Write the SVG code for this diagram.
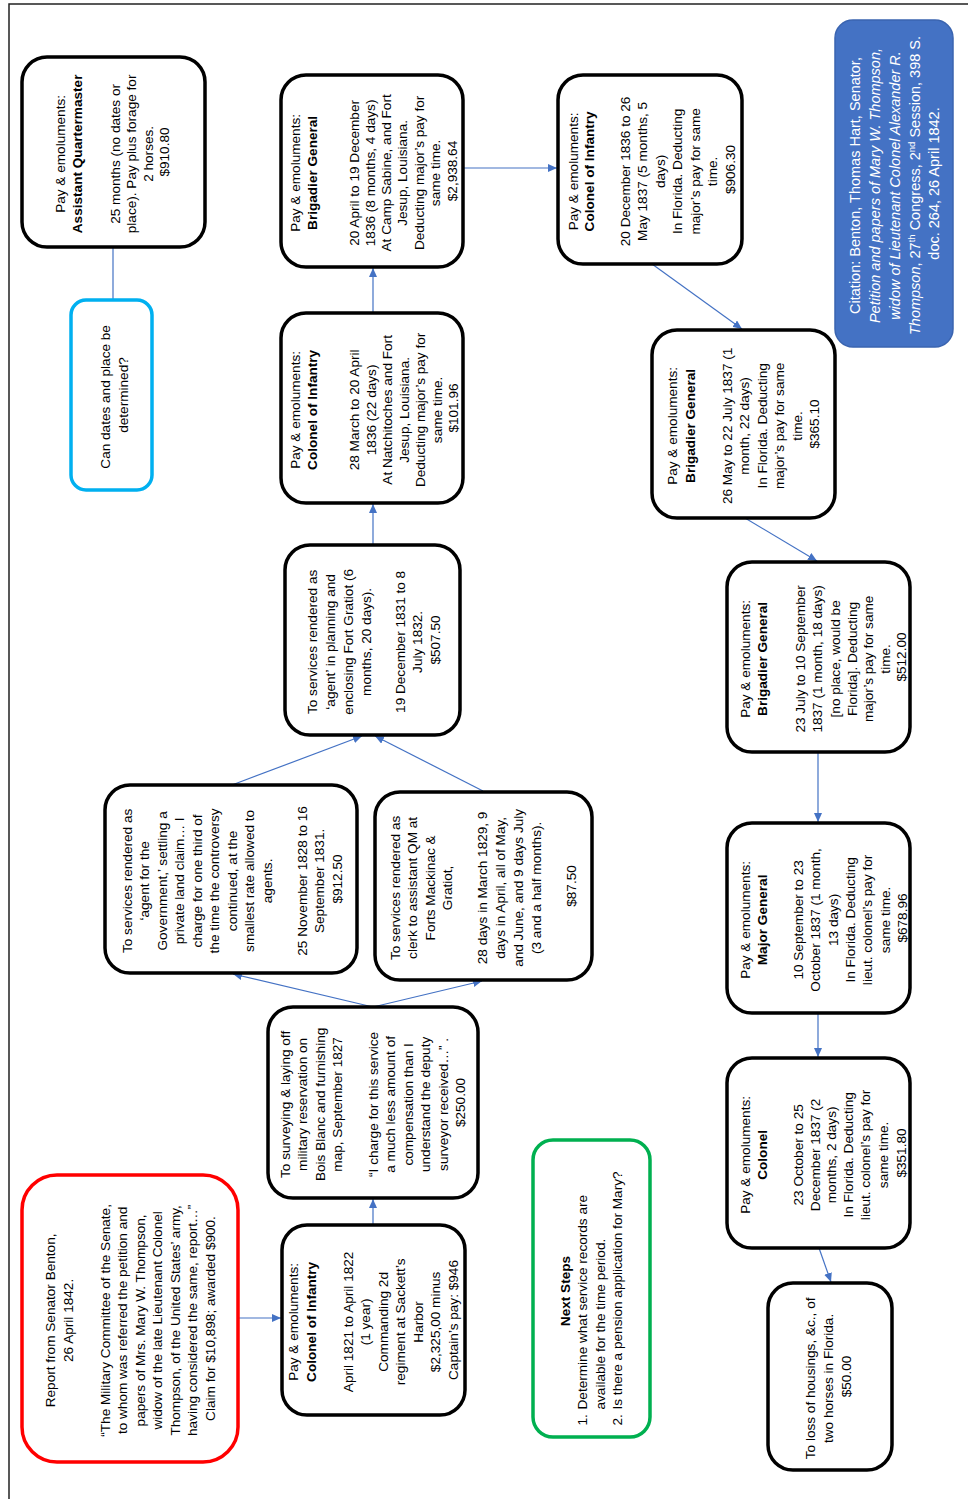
<svg xmlns="http://www.w3.org/2000/svg" width="968" height="1499" viewBox="0 0 968 1499">
<style>
.box{fill:#fff;stroke:#000;stroke-width:3.5}
.t{font-family:"Liberation Sans",Arial,sans-serif;font-size:13.6px;text-anchor:middle;fill:#000}
.b{font-weight:bold}
.conn{stroke:#4472C4;stroke-width:1.2;fill:none;marker-end:url(#ah)}
.plain{stroke:#4472C4;stroke-width:1.2;fill:none}
</style>
<defs>
<marker id="ah" markerUnits="userSpaceOnUse" markerWidth="9" markerHeight="8" refX="9" refY="4" orient="auto">
<path d="M0,0 L9,4 L0,8 z" fill="#4472C4"/>
</marker>
</defs>
<rect width="968" height="1499" fill="#fff"/>
<path d="M9,1499 V4 H968" fill="none" stroke="#222" stroke-width="1.5"/>

<g id="connectors">
<line class="plain" x1="113" y1="247" x2="113" y2="300"/>
<line class="conn" x1="238" y1="1318" x2="281" y2="1318"/>
<line class="conn" x1="373" y1="1225" x2="373" y2="1199"/>
<line class="conn" x1="373" y1="1007" x2="233" y2="974"/>
<line class="conn" x1="373" y1="1007" x2="482" y2="981"/>
<line class="conn" x1="232" y1="785" x2="362" y2="736"/>
<line class="conn" x1="483" y1="791" x2="375" y2="736"/>
<line class="conn" x1="373" y1="545" x2="373" y2="504"/>
<line class="conn" x1="373" y1="313" x2="373" y2="268"/>
<line class="conn" x1="463" y1="168" x2="557" y2="168"/>
<line class="conn" x1="652" y1="264" x2="742" y2="329"/>
<line class="conn" x1="745" y1="518" x2="817" y2="561"/>
<line class="conn" x1="818" y1="752" x2="818" y2="822"/>
<line class="conn" x1="818" y1="1013" x2="818" y2="1057"/>
<line class="conn" x1="819" y1="1248" x2="831" y2="1282"/>
</g>

<g id="n-asst-qm">
<rect class="box" x="22" y="57" width="183" height="190" rx="25"/>
<text class="t" transform="translate(113.5,152) rotate(-90)">
<tspan x="0" y="-48.8">Pay &amp; emoluments:</tspan>
<tspan x="0" y="-31.8" class="b">Assistant Quartermaster</tspan>
<tspan x="0" y="6.2">25 months (no dates or</tspan>
<tspan x="0" y="22.7">place). Pay plus forage for</tspan>
<tspan x="0" y="39.2">2 horses.</tspan>
<tspan x="0" y="55.7">$910.80</tspan>
</text>
</g>

<g id="n-can-dates">
<rect x="71" y="300" width="81" height="190" rx="15" fill="#fff" stroke="#00B0F0" stroke-width="3.5"/>
<text class="t" transform="translate(111.5,395) rotate(-90)">
<tspan x="0" y="-1.8">Can dates and place be</tspan>
<tspan x="0" y="16.2">determined?</tspan>
</text>
</g>

<g id="n-brig-1836">
<rect class="box" x="281" y="75" width="182" height="192" rx="25"/>
<text class="t" transform="translate(372,171) rotate(-90)">
<tspan x="0" y="-72.3">Pay &amp; emoluments:</tspan>
<tspan x="0" y="-55.3" class="b">Brigadier General</tspan>
<tspan x="0" y="-13.3">20 April to 19 December</tspan>
<tspan x="0" y="3.2">1836 (8 months, 4 days)</tspan>
<tspan x="0" y="19.2">At Camp Sabine, and Fort</tspan>
<tspan x="0" y="35.2">Jesup, Louisiana.</tspan>
<tspan x="0" y="51.7">Deducting major’s pay for</tspan>
<tspan x="0" y="68.2">same time.</tspan>
<tspan x="0" y="84.7">$2,938.64</tspan>
</text>
</g>

<g id="n-col-1836">
<rect class="box" x="281" y="313" width="182" height="190" rx="25"/>
<text class="t" transform="translate(372,408) rotate(-90)">
<tspan x="0" y="-72.3">Pay &amp; emoluments:</tspan>
<tspan x="0" y="-55.3" class="b">Colonel of Infantry</tspan>
<tspan x="0" y="-13">28 March to 20 April</tspan>
<tspan x="0" y="3.5">1836 (22 days)</tspan>
<tspan x="0" y="20">At Natchitoches and Fort</tspan>
<tspan x="0" y="36.5">Jesup, Louisiana.</tspan>
<tspan x="0" y="53">Deducting major’s pay for</tspan>
<tspan x="0" y="69.5">same time.</tspan>
<tspan x="0" y="86">$101.96</tspan>
</text>
</g>

<g id="n-fort-gratiot">
<rect class="box" x="285" y="545" width="175" height="190" rx="25"/>
<text class="t" transform="translate(372.5,640) rotate(-90)">
<tspan x="0" y="-55.8">To services rendered as</tspan>
<tspan x="0" y="-37.8">‘agent’ in planning and</tspan>
<tspan x="0" y="-19.8">enclosing Fort Gratiot (6</tspan>
<tspan x="0" y="-1.8">months, 20 days).</tspan>
<tspan x="0" y="32.2">19 December 1831 to 8</tspan>
<tspan x="0" y="49.7">July 1832.</tspan>
<tspan x="0" y="67.2">$507.50</tspan>
</text>
</g>

<g id="n-agent-gov">
<rect class="box" x="105" y="785" width="252" height="188" rx="25"/>
<text class="t" transform="translate(231,879) rotate(-90)">
<tspan x="0" y="-99.3">To services rendered as</tspan>
<tspan x="0" y="-81.8">‘agent for the</tspan>
<tspan x="0" y="-64.3">Government,’  settling a</tspan>
<tspan x="0" y="-46.8">private land claim… I</tspan>
<tspan x="0" y="-29.3">charge for one third of</tspan>
<tspan x="0" y="-11.8">the time the controversy</tspan>
<tspan x="0" y="5.7">continued, at the</tspan>
<tspan x="0" y="23.2">smallest rate allowed to</tspan>
<tspan x="0" y="40.7">agents.</tspan>
<tspan x="0" y="75.7">25 November  1828 to 16</tspan>
<tspan x="0" y="93.2">September  1831.</tspan>
<tspan x="0" y="110.7">$912.50</tspan>
</text>
</g>

<g id="n-clerk-qm">
<rect class="box" x="375" y="792" width="217" height="188" rx="25"/>
<text class="t" transform="translate(483.5,886) rotate(-90)">
<tspan x="0" y="-83.8">To services rendered as</tspan>
<tspan x="0" y="-66.3">clerk to assistant QM at</tspan>
<tspan x="0" y="-48.8">Forts Mackinac &amp;</tspan>
<tspan x="0" y="-31.3">Gratiot,</tspan>
<tspan x="0" y="3.2">28 days in March 1829, 9</tspan>
<tspan x="0" y="21.2">days in April, all of May,</tspan>
<tspan x="0" y="39.2">and June, and 9 days July</tspan>
<tspan x="0" y="57.2">(3 and a half months).</tspan>
<tspan x="0" y="92.7">$87.50</tspan>
</text>
</g>

<g id="n-surveying">
<rect class="box" x="268" y="1007" width="210" height="191" rx="25"/>
<text class="t" transform="translate(373,1102.5) rotate(-90)">
<tspan x="0" y="-83.3">To surveying &amp; laying off</tspan>
<tspan x="0" y="-65.8">military reservation on</tspan>
<tspan x="0" y="-48.3">Bois Blanc and furnishing</tspan>
<tspan x="0" y="-30.8">map, September  1827</tspan>
<tspan x="0" y="4.7">“I charge for this service</tspan>
<tspan x="0" y="22.2">a much less amount of</tspan>
<tspan x="0" y="39.7">compensation than I</tspan>
<tspan x="0" y="57.2">understand the deputy</tspan>
<tspan x="0" y="74.7">surveyor received…” .</tspan>
<tspan x="0" y="92.2">$250.00</tspan>
</text>
</g>

<g id="n-col-1821">
<rect class="box" x="282" y="1225" width="183" height="190" rx="25"/>
<text class="t" transform="translate(373.5,1320) rotate(-90)">
<tspan x="0" y="-75.8">Pay &amp; emoluments:</tspan>
<tspan x="0" y="-57.8" class="b">Colonel of Infantry</tspan>
<tspan x="0" y="-20.8">April 1821 to April 1822</tspan>
<tspan x="0" y="-3.3">(1 year)</tspan>
<tspan x="0" y="14.2">Commanding 2d</tspan>
<tspan x="0" y="31.7">regiment at Sackett’s</tspan>
<tspan x="0" y="49.2">Harbor</tspan>
<tspan x="0" y="66.7">$2,325,00 minus</tspan>
<tspan x="0" y="84.2">Captain’s pay: $946</tspan>
</text>
</g>

<g id="n-report">
<rect x="22" y="1175" width="216" height="287" rx="35" fill="#fff" stroke="#FF0000" stroke-width="3.5"/>
<text class="t" transform="translate(130,1318.5) rotate(-90)">
<tspan x="0" y="-75.3">Report from  Senator Benton,</tspan>
<tspan x="0" y="-57.3">26 April 1842.</tspan>
<tspan x="0" y="-20.3">“The Military Committee of the Senate,</tspan>
<tspan x="0" y="-2.8">to whom  was referred the petition and</tspan>
<tspan x="0" y="14.7">papers of Mrs. Mary W. Thompson,</tspan>
<tspan x="0" y="32.2">widow of the late Lieutenant Colonel</tspan>
<tspan x="0" y="49.7">Thompson,  of the United States’ army,</tspan>
<tspan x="0" y="67.2">having considered the same, report…”</tspan>
<tspan x="0" y="84.7">Claim for $10,898; awarded $900.</tspan>
</text>
</g>

<g id="n-next-steps">
<rect x="533" y="1140" width="117" height="297" rx="20" fill="#fff" stroke="#00B050" stroke-width="3.5"/>
<g transform="translate(591.5,1288.5) rotate(-90)">
<text class="t b" x="-2.5" y="-21.3" font-size="15px">Next Steps</text>
<text class="t" style="text-anchor:start">
<tspan x="-137" y="-4.8">1.</tspan>
<tspan x="-121" y="-4.8">Determine what service records are</tspan>
<tspan x="-121" y="13.2">available for the time period.</tspan>
<tspan x="-137" y="30.7">2.</tspan>
<tspan x="-121" y="30.7">Is there a pension application for Mary?</tspan>
</text>
</g>
</g>

<g id="n-col-1837">
<rect class="box" x="558" y="75" width="184" height="189" rx="25"/>
<text class="t" transform="translate(650,169.5) rotate(-90)">
<tspan x="0" y="-72.3">Pay &amp; emoluments:</tspan>
<tspan x="0" y="-56.3" class="b">Colonel of Infantry</tspan>
<tspan x="0" y="-20.3">20 December 1836 to 26</tspan>
<tspan x="0" y="-2.8">May 1837 (5 months, 5</tspan>
<tspan x="0" y="14.7">days)</tspan>
<tspan x="0" y="32.2">In Florida. Deducting</tspan>
<tspan x="0" y="49.7">major’s pay for same</tspan>
<tspan x="0" y="67.2">time.</tspan>
<tspan x="0" y="84.7">$906.30</tspan>
</text>
</g>

<g id="n-brig-may1837">
<rect class="box" x="652" y="330" width="183" height="188" rx="25"/>
<text class="t" transform="translate(743.5,424) rotate(-90)">
<tspan x="0" y="-66.8">Pay &amp; emoluments:</tspan>
<tspan x="0" y="-48.8" class="b">Brigadier General</tspan>
<tspan x="0" y="-11.8">26 May to 22 July 1837 (1</tspan>
<tspan x="0" y="5.7">month,  22 days)</tspan>
<tspan x="0" y="23.2">In Florida. Deducting</tspan>
<tspan x="0" y="40.7">major’s pay for same</tspan>
<tspan x="0" y="58.2">time.</tspan>
<tspan x="0" y="75.7">$365.10</tspan>
</text>
</g>

<g id="n-brig-jul1837">
<rect class="box" x="727" y="562" width="183" height="190" rx="25"/>
<text class="t" transform="translate(818.5,657) rotate(-90)">
<tspan x="0" y="-68.8">Pay &amp; emoluments:</tspan>
<tspan x="0" y="-51.8" class="b">Brigadier General</tspan>
<tspan x="0" y="-13.8">23 July to 10 September</tspan>
<tspan x="0" y="3.7">1837 (1 month, 18 days)</tspan>
<tspan x="0" y="21.2">[no place, would be</tspan>
<tspan x="0" y="38.2">Florida]. Deducting</tspan>
<tspan x="0" y="54.7">major’s pay for same</tspan>
<tspan x="0" y="71.2">time.</tspan>
<tspan x="0" y="87.7">$512.00</tspan>
</text>
</g>

<g id="n-major-gen">
<rect class="box" x="727" y="823" width="183" height="190" rx="25"/>
<text class="t" transform="translate(818.5,918) rotate(-90)">
<tspan x="0" y="-68.8">Pay &amp; emoluments:</tspan>
<tspan x="0" y="-51.8" class="b">Major General</tspan>
<tspan x="0" y="-15.8">10 September  to 23</tspan>
<tspan x="0" y="1.7">October 1837 (1 month,</tspan>
<tspan x="0" y="19.2">13 days)</tspan>
<tspan x="0" y="36.2">In Florida. Deducting</tspan>
<tspan x="0" y="53.7">lieut. colonel’s pay for</tspan>
<tspan x="0" y="71.2">same time.</tspan>
<tspan x="0" y="88.2">$678.96</tspan>
</text>
</g>

<g id="n-colonel">
<rect class="box" x="727" y="1058" width="183" height="190" rx="25"/>
<text class="t" transform="translate(818.5,1153) rotate(-90)">
<tspan x="0" y="-68.8">Pay &amp; emoluments:</tspan>
<tspan x="0" y="-51.8" class="b">Colonel</tspan>
<tspan x="0" y="-15.8">23 October to 25</tspan>
<tspan x="0" y="1.2">December 1837 (2</tspan>
<tspan x="0" y="17.2">months, 2 days)</tspan>
<tspan x="0" y="34.7">In Florida. Deducting</tspan>
<tspan x="0" y="51.7">lieut. colonel’s pay for</tspan>
<tspan x="0" y="69.2">same time.</tspan>
<tspan x="0" y="87.7">$351.80</tspan>
</text>
</g>

<g id="n-loss">
<rect class="box" x="768" y="1283" width="124" height="187" rx="25"/>
<text class="t" transform="translate(830,1376.5) rotate(-90)">
<tspan x="0" y="-15.3">To loss of housings, &amp;c., of</tspan>
<tspan x="0" y="2.7">two horses in Florida.</tspan>
<tspan x="0" y="21.2">$50.00</tspan>
</text>
</g>

<g id="n-citation">
<rect x="835" y="20" width="118" height="327" rx="18" fill="#4472C4" stroke="#3A64B0" stroke-width="1.5"/>
<text class="t" style="fill:#fff;font-size:14.5px" transform="translate(894,183.5) rotate(-90)">
<tspan x="0" y="-34">Citation: Benton, Thomas Hart, Senator,</tspan>
<tspan x="0" y="-14" font-style="italic">Petition and papers of Mary W. Thompson,</tspan>
<tspan x="0" y="6" font-style="italic">widow of Lieutenant Colonel Alexander R.</tspan>
<tspan x="0" y="26"><tspan font-style="italic">Thompson</tspan>, 27<tspan font-size="9.5px" dy="-5">th</tspan><tspan dy="5"> Congress, 2</tspan><tspan font-size="9.5px" dy="-5">nd</tspan><tspan dy="5"> Session, 398 S.</tspan></tspan>
<tspan x="0" y="45">doc. 264, 26 April 1842.</tspan>
</text>
</g>
</svg>
